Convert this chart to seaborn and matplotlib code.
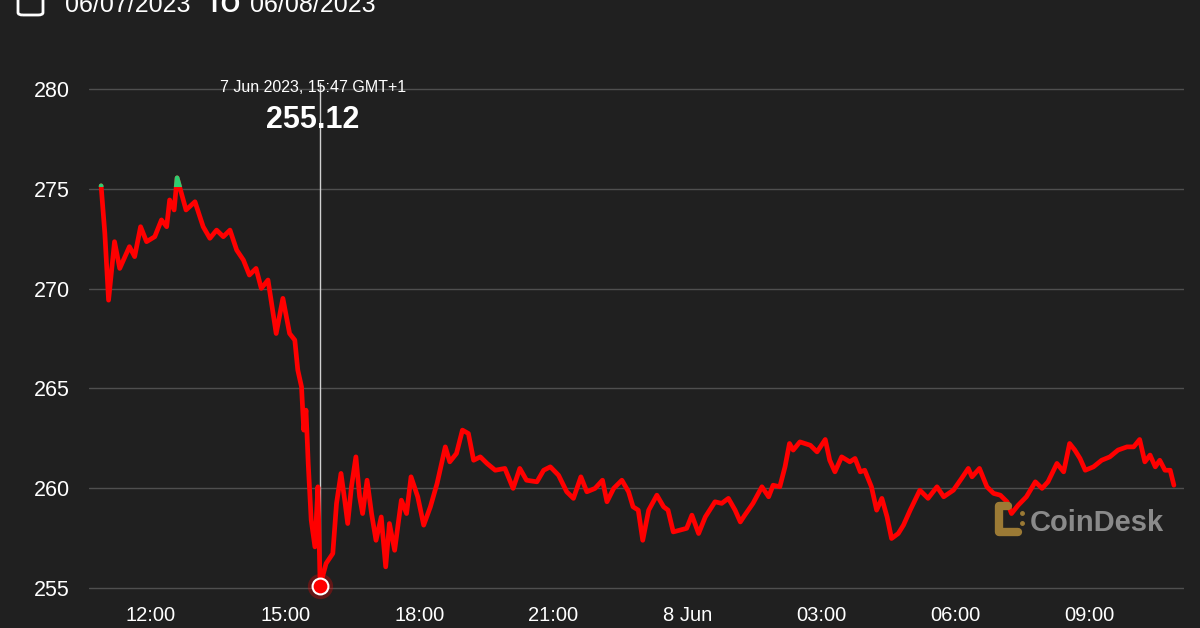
import numpy as np
import pandas as pd
import matplotlib
matplotlib.use('Agg')
import matplotlib.pyplot as plt
import seaborn as sns
from matplotlib.patches import Rectangle, FancyBboxPatch
from matplotlib.lines import Line2D
import matplotlib.dates as mdates

# minutes since 7 Jun 2023 00:00 (GMT+1) and price
minutes = [653, 658, 663, 671, 678, 691, 698, 706, 714, 725, 734, 741, 745, 751, 755,
           767, 779, 790, 799, 808, 817, 826, 835, 844, 852, 861, 868, 877, 888, 897,
           906, 913, 917, 922, 925, 928, 931, 935, 940, 944, 947, 955, 964, 969, 975,
           980, 984, 989, 995, 1000, 1004, 1010, 1016, 1022, 1029, 1035, 1040, 1047, 1056, 1063,
           1069, 1078, 1086, 1095, 1104, 1115, 1121, 1130, 1138, 1146, 1153, 1162, 1171, 1182, 1195,
           1206, 1215, 1224, 1238, 1247, 1256, 1267, 1278, 1287, 1297, 1305, 1316, 1326, 1332, 1341,
           1352, 1361, 1367, 1374, 1380, 1388, 1399, 1408, 1414, 1421, 1430, 1439, 1446, 1455, 1464,
           1477, 1486, 1495, 1504, 1511, 1517, 1528, 1540, 1549, 1555, 1564, 1571, 1577, 1582, 1591,
           1605, 1614, 1625, 1631, 1638, 1647, 1658, 1665, 1672, 1678, 1687, 1694, 1701, 1708, 1714,
           1723, 1730, 1739, 1752, 1763, 1775, 1784, 1797, 1808, 1817, 1822, 1832, 1842, 1851, 1860,
           1869, 1875, 1884, 1895, 1907, 1916, 1924, 1936, 1945, 1953, 1960, 1967, 1974, 1985, 1996,
           2007, 2018, 2030, 2039, 2047, 2054, 2061, 2068, 2074, 2081, 2088, 2093]
prices = [275.15, 272.77, 269.42, 272.35, 271.01, 272.10, 271.60, 273.10, 272.35, 272.60, 273.44, 273.10, 274.44, 273.94, 275.55,
          273.94, 274.35, 273.10, 272.52, 272.93, 272.60, 272.93, 271.93, 271.43, 270.68, 271.01, 270.01, 270.43, 267.75, 269.51,
          267.75, 267.42, 265.92, 265.08, 262.91, 263.91, 261.24, 258.40, 257.06, 260.07, 255.12, 256.23, 256.73, 259.24, 260.74,
          259.40, 258.23, 260.07, 261.57, 259.57, 258.73, 260.40, 258.73, 257.39, 258.56, 256.06, 258.23, 256.89, 259.40, 258.73,
          260.57, 259.57, 258.15, 259.07, 260.24, 262.07, 261.32, 261.74, 262.91, 262.74, 261.40, 261.57, 261.24, 260.90, 260.99,
          259.99, 260.99, 260.40, 260.32, 260.90, 261.07, 260.65, 259.82, 259.49, 260.57, 259.82, 259.99, 260.40, 259.32, 259.99,
          260.40, 259.82, 259.07, 258.90, 257.39, 258.90, 259.65, 259.07, 258.90, 257.81, 257.90, 257.99, 258.65, 257.73, 258.56,
          259.32, 259.24, 259.49, 258.90, 258.31, 258.65, 259.24, 260.07, 259.57, 260.15, 260.07, 261.07, 262.24, 261.91, 262.32,
          262.15, 261.82, 262.44, 261.40, 260.82, 261.57, 261.32, 261.49, 260.82, 260.90, 260.07, 258.90, 259.49, 258.56, 257.48,
          257.73, 258.15, 258.90, 259.90, 259.49, 260.07, 259.57, 259.90, 260.49, 260.99, 260.57, 260.99, 260.07, 259.74, 259.65,
          259.32, 258.73, 259.15, 259.57, 260.32, 259.99, 260.32, 261.24, 260.82, 262.24, 261.91, 261.49, 260.90, 261.07, 261.40,
          261.57, 261.91, 262.07, 262.07, 262.44, 261.32, 261.66, 261.07, 261.40, 260.90, 260.90, 260.15]
open_price = 275.1

tick_hours = [12, 15, 18, 21, 24, 27, 30, 33]
tick_labels = ['12:00', '15:00', '18:00', '21:00', '8 Jun', '03:00', '06:00', '09:00']
y_ticks = [255, 260, 265, 270, 275, 280]

BG = '#202020'
RED = '#ff0000'
GREEN = '#2ecc71'

sns.set_theme(style='dark')
plt.rcParams['font.family'] = ['Liberation Sans', 'DejaVu Sans']

base = pd.Timestamp('2023-06-07')
df = pd.DataFrame({'time': base + pd.to_timedelta(minutes, unit='m'), 'price': prices})

fig = plt.figure(figsize=(12, 6.28), dpi=100, facecolor=BG)
ax = fig.add_axes([0.0742, 0.0478, 0.9125, 0.8264])
ax.set_facecolor(BG)

sns.lineplot(data=df, x='time', y='price', ax=ax, color=RED, lw=3.4,
             solid_joinstyle='round', solid_capstyle='round', zorder=3)
sns.lineplot(data=df, x='time', y='price', ax=ax, color=GREEN, lw=3.4,
             solid_joinstyle='round', solid_capstyle='round', zorder=4)
green_line = ax.lines[-1]

x0 = base + pd.Timedelta(minutes=636.8)
x1 = base + pd.Timedelta(minutes=2106.6)
ax.set_xlim(x0, x1)
ax.set_ylim(254.5, 280.5)

n0, n1 = mdates.date2num(x0), mdates.date2num(x1)
clip = Rectangle((n0, open_price), n1 - n0, 10, transform=ax.transData)
green_line.set_clip_path(clip)

ax.set_yticks(y_ticks)
ax.set_xticks([base + pd.Timedelta(hours=h) for h in tick_hours])
ax.set_xticklabels(tick_labels)
ax.tick_params(axis='y', length=0, pad=14, labelsize=15.5, colors='white')
ax.tick_params(axis='x', length=0, pad=6, labelsize=14.5, colors='white')
ax.set_xlabel('')
ax.set_ylabel('')
ax.yaxis.grid(True, color='#4f4f4f', lw=1)
ax.xaxis.grid(False)
for s in ax.spines.values():
    s.set_visible(False)

# crosshair at the low
imin = int(np.argmin(prices))
t_low = df['time'][imin]
p_low = prices[imin]
ax.plot([t_low, t_low], [p_low, 280.3], color='#d0d0d0', lw=1, zorder=2, clip_on=False)
ax.scatter([t_low], [p_low], s=330, color=RED, alpha=0.3, lw=0, zorder=5, clip_on=False)
ax.scatter([t_low], [p_low], s=130, color=RED, edgecolor='white', lw=1.5, zorder=6, clip_on=False)

fig.text(313 / 1200, 1 - 88 / 628, '7 Jun 2023, 15:47 GMT+1', color='white',
         fontsize=11.5, ha='center', va='center')
fig.text(313 / 1200, 1 - 120 / 628, f'{p_low:.2f}', color='white',
         fontsize=22, fontweight='bold', ha='center', va='center')

# header (cut off at top, as in the source)
fig.text(65 / 1200, 1 - 12 / 628, '06/07/2023', color='white', fontsize=18, va='baseline')
fig.text(207 / 1200, 1 - 12 / 628, 'TO', color='white', fontsize=18, fontweight='bold', va='baseline')
fig.text(250 / 1200, 1 - 12 / 628, '06/08/2023', color='white', fontsize=18, va='baseline')
fig.patches.append(FancyBboxPatch((18 / 1200, 1 - 15 / 628), 25 / 1200, 30 / 628,
                                  boxstyle='round,pad=0,rounding_size=0.004',
                                  transform=fig.transFigure, fill=False,
                                  edgecolor='white', lw=2))

# CoinDesk watermark
GOLD = '#9b7a35'
fig.lines.append(Line2D([1008 / 1200, 999 / 1200, 999 / 1200, 1018 / 1200],
                        [1 - 506 / 628, 1 - 506 / 628, 1 - 532 / 628, 1 - 532 / 628],
                        transform=fig.transFigure, color=GOLD, lw=6,
                        solid_capstyle='round', solid_joinstyle='round'))
fig.lines.append(Line2D([1022 / 1200, 1022 / 1200], [1 - 513 / 628, 1 - 523 / 628],
                        transform=fig.transFigure, color=GOLD, lw=0, marker='o', ms=2.5))
fig.text(1030 / 1200, 1 - 531 / 628, 'CoinDesk', color='#8a8a8a', fontsize=21,
         fontweight='bold', va='baseline')

fig.savefig('out.png', dpi=100, facecolor=BG)
